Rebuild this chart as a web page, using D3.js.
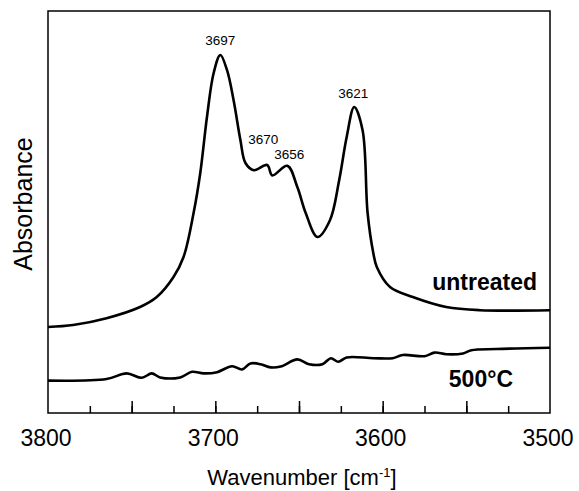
<!DOCTYPE html>
<meta charset="utf-8">
<style>
body { margin: 0; background: #fff; }
text { font-family: "Liberation Sans", Arial, sans-serif; fill: #000; }
.curve { fill: none; stroke: #000; stroke-width: 2.6px; stroke-linejoin: round; }
</style>
<body>
<svg width="579" height="491"></svg>

<script src="https://cdn.jsdelivr.net/npm/d3@7"></script>
<script>

// spectrum of the untreated sample (wavenumber, absorbance a.u.)
var untreatedWn = [3800, 3785, 3765, 3745, 3735, 3725, 3719, 3713, 3709, 3705, 3701, 3697, 3693, 3689, 3685, 3682,
                   3677, 3669, 3666, 3657, 3651, 3646, 3639, 3631.5, 3626, 3621.5, 3617, 3612, 3609, 3605.6, 3603.5,
                   3595.6, 3582, 3562, 3542, 3500];
var untreatedAbs = [0.215, 0.22, 0.237, 0.265, 0.29, 0.34, 0.39, 0.50, 0.60, 0.74, 0.85, 0.895, 0.857, 0.78, 0.682, 0.625,
                    0.607, 0.62, 0.594, 0.618, 0.565, 0.50, 0.44, 0.482, 0.582, 0.69, 0.765, 0.707, 0.50, 0.40, 0.365,
                    0.315, 0.29, 0.265, 0.257, 0.257];

// spectrum after 500 °C
var heatedWn = [3800, 3765, 3753, 3744, 3738, 3733, 3721, 3714, 3707, 3699, 3690, 3684, 3679, 3673, 3667, 3661,
                3651, 3644, 3636, 3631, 3626.5, 3621.5, 3605.5, 3594, 3588, 3575, 3569, 3562, 3552, 3547, 3532, 3500];
var heatedAbs = [0.081, 0.085, 0.099, 0.088, 0.099, 0.089, 0.089, 0.103, 0.099, 0.102, 0.117, 0.109, 0.124, 0.122, 0.114, 0.116,
                 0.134, 0.122, 0.122, 0.137, 0.128, 0.139, 0.137, 0.137, 0.145, 0.142, 0.151, 0.147, 0.149, 0.157, 0.160, 0.163];

var peakLabels = ["3697", "3670", "3656", "3621"];
var xTickLabels = [3800, 3700, 3600, 3500];

var svg = d3.select("svg"),
    mLeft = 48, mRight = 550, mTop = 11, mBottom = 413;

var x = d3.scaleLinear().domain([3800, 3500]).range([mLeft, mRight]);
var y = d3.scaleLinear().domain([0, 1]).range([mBottom, mTop + 2]);

// frame
svg.append("rect")
    .attr("x", mLeft).attr("y", mTop)
    .attr("width", mRight - mLeft).attr("height", mBottom - mTop)
    .attr("fill", "none").attr("stroke", "#000").attr("stroke-width", 1.5);

// minor ticks every 25, major every 50, pointing inward
var minorAxis = d3.axisBottom(x)
    .tickValues(d3.range(3775, 3500, -25))
    .tickSizeInner(-7).tickSizeOuter(0).tickFormat("");
var majorAxis = d3.axisBottom(x)
    .tickValues(d3.range(3750, 3500, -50))
    .tickSizeInner(-12).tickSizeOuter(0).tickFormat("");

[minorAxis, majorAxis].forEach(function(ax) {
  var g = svg.append("g").attr("transform", "translate(0," + mBottom + ")").call(ax);
  g.select(".domain").remove();
  g.selectAll("line").attr("stroke", "#000").attr("stroke-width", 1.5);
});

svg.append("g").selectAll("text")
  .data(xTickLabels)
  .enter().append("text")
    .attr("x", function(d) { return x(d) - 2; })
    .attr("y", 446)
    .attr("text-anchor", "middle")
    .style("font-size", "23px")
    .text(function(d) { return d; });

// axis titles
var xTitle = svg.append("text")
    .attr("x", 302).attr("y", 485)
    .attr("text-anchor", "middle")
    .style("font-size", "22px");
xTitle.append("tspan").text("Wavenumber [cm");
xTitle.append("tspan").attr("dy", -8).style("font-size", "13px").text("-1");
xTitle.append("tspan").attr("dy", 8).text("]");

svg.append("text")
    .attr("transform", "translate(32,204) rotate(-90)")
    .attr("text-anchor", "middle")
    .style("font-size", "25px")
    .text("Absorbance");

// curves
var line = d3.line()
    .x(function(d) { return x(d[0]); })
    .y(function(d) { return y(d[1]); })
    .curve(d3.curveCatmullRom.alpha(0.5));

svg.append("path").attr("class", "curve")
    .attr("d", line(d3.zip(untreatedWn, untreatedAbs)));
svg.append("path").attr("class", "curve")
    .attr("d", line(d3.zip(heatedWn, heatedAbs)));

// peak labels, placed above the curve at each peak
var peakY = d3.scaleLinear().domain(untreatedWn).range(untreatedAbs);
var labelShift = [[0, -10], [-4, -21], [2, -7], [-1, -9]];
var peakPos = [3697, 3669, 3657, 3617]; // where the maxima sit on the drawn axis
svg.append("g").selectAll("text")
  .data(peakLabels)
  .enter().append("text")
    .attr("x", function(d, i) { return x(peakPos[i]) + labelShift[i][0]; })
    .attr("y", function(d, i) { return y(peakY(peakPos[i])) + labelShift[i][1]; })
    .attr("text-anchor", "middle")
    .style("font-size", "13.5px")
    .text(function(d) { return d; });

// series labels
svg.append("text")
    .attr("x", 537).attr("y", 290)
    .attr("text-anchor", "end")
    .style("font-size", "23px").style("font-weight", "bold")
    .text("untreated");
svg.append("text")
    .attr("x", 513).attr("y", 387)
    .attr("text-anchor", "end")
    .style("font-size", "23px").style("font-weight", "bold")
    .text("500°C");

</script>
</body>
